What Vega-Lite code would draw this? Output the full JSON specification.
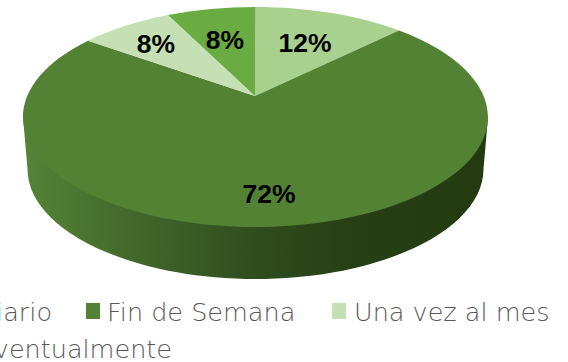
{
"$schema":"https://vega.github.io/schema/vega-lite/v6.json",
"width":568,"height":362,"padding":0,"autosize":{"type":"none"},"background":"white",
"config":{"view":{"stroke":null}},
"data":{"values":[
{"categoria":"Diario","porcentaje":12,"etiqueta":"12%"},
{"categoria":"Fin de Semana","porcentaje":72,"etiqueta":"72%"},
{"categoria":"Una vez al mes","porcentaje":8,"etiqueta":"8%"},
{"categoria":"Eventualmente","porcentaje":8,"etiqueta":"8%"}
]},
"layer":[
{"transform":[{"filter":"datum.categoria==='Fin de Semana'"}],
 "mark":{"type":"point","filled":true,"size":4,"opacity":1,"strokeWidth":0,
  "shape":"M-261,-64 L-256.5,-12 A228,110 0 0 0 199.5,-12 L204,-64 Z",
  "fill":{"gradient":"linear","x1":0,"y1":0,"x2":1,"y2":0,"stops":[{"offset":0,"color":"#558438"},{"offset":0.22,"color":"#436a2b"},{"offset":0.5,"color":"#2f4d1e"},{"offset":0.72,"color":"#263f14"},{"offset":1,"color":"#233a11"}]}},
 "encoding":{}},
{"mark":{"type":"point","filled":true,"size":4,"opacity":1,"strokeWidth":0},
 "encoding":{
  "color":{"field":"categoria","type":"nominal","legend":null,"scale":{"domain":["Diario","Fin de Semana","Una vez al mes","Eventualmente"],"range":["#a9d18e","#548235","#c5e0b4","#6aab42"]}},
  "shape":{"field":"categoria","type":"nominal","legend":null,"scale":{"domain":["Diario","Fin de Semana","Una vez al mes","Eventualmente"],"range":[
   "M-29,-85 L-28.5,-174 A232.5,110 0 0 1 115,-150.55 Z",
   "M-29,-85 L115,-150.55 A232.5,110 0 1 1 -196,-140.3 Z",
   "M-29,-85 L-196,-140.3 A232.5,110 0 0 1 -116,-165.9 Z",
   "M-29,-85 L-116,-165.9 A232.5,110 0 0 1 -28.5,-174 Z"]}}
 }},
{"mark":{"type":"point","filled":true,"size":4,"opacity":1,"strokeWidth":0},
 "encoding":{
  "color":{"field":"categoria","type":"nominal","legend":null},
  "shape":{"field":"categoria","type":"nominal","legend":null,"scale":{"domain":["Diario","Fin de Semana","Una vez al mes","Eventualmente"],"range":[
   "M-330,122 H-316 V138 H-330 Z",
   "M-198,122 H-184 V138 H-198 Z",
   "M48,122 H62 V138 H48 Z",
   "M-330,160 H-316 V176 H-330 Z"]}}
 }},
{"transform":[{"filter":"datum.categoria==='Diario'"}],"mark":{"type":"text","font":"Liberation Sans","fontWeight":"bold","fontSize":26.5,"color":"black","align":"center","baseline":"middle","dx":21,"dy":-137},"encoding":{"text":{"field":"etiqueta"}}},
{"transform":[{"filter":"datum.categoria==='Fin de Semana'"}],"mark":{"type":"text","font":"Liberation Sans","fontWeight":"bold","fontSize":26.5,"color":"black","align":"center","baseline":"middle","dx":-15,"dy":14},"encoding":{"text":{"field":"etiqueta"}}},
{"transform":[{"filter":"datum.categoria==='Una vez al mes'"}],"mark":{"type":"text","font":"Liberation Sans","fontWeight":"bold","fontSize":26.5,"color":"black","align":"center","baseline":"middle","dx":-128,"dy":-136},"encoding":{"text":{"field":"etiqueta"}}},
{"transform":[{"filter":"datum.categoria==='Eventualmente'"}],"mark":{"type":"text","font":"Liberation Sans","fontWeight":"bold","fontSize":26.5,"color":"black","align":"center","baseline":"middle","dx":-59,"dy":-140},"encoding":{"text":{"field":"etiqueta"}}},
{"transform":[{"filter":"datum.categoria==='Diario'"}],"mark":{"type":"text","font":"DejaVu Sans","fontWeight":200,"fontSize":25.5,"color":"#595959","align":"right","baseline":"alphabetic","dx":-232,"dy":140},"encoding":{"text":{"field":"categoria"}}},
{"transform":[{"filter":"datum.categoria==='Fin de Semana'"}],"mark":{"type":"text","font":"DejaVu Sans","fontWeight":200,"fontSize":25.5,"color":"#595959","align":"left","baseline":"alphabetic","dx":-177,"dy":140},"encoding":{"text":{"field":"categoria"}}},
{"transform":[{"filter":"datum.categoria==='Una vez al mes'"}],"mark":{"type":"text","font":"DejaVu Sans","fontWeight":200,"fontSize":25.5,"color":"#595959","align":"left","baseline":"alphabetic","dx":70,"dy":140},"encoding":{"text":{"field":"categoria"}}},
{"transform":[{"filter":"datum.categoria==='Eventualmente'"}],"mark":{"type":"text","font":"DejaVu Sans","fontWeight":200,"fontSize":25.5,"color":"#595959","align":"right","baseline":"alphabetic","dx":-112,"dy":177},"encoding":{"text":{"field":"categoria"}}}
],
"resolve":{"scale":{"shape":"independent"}}
}
